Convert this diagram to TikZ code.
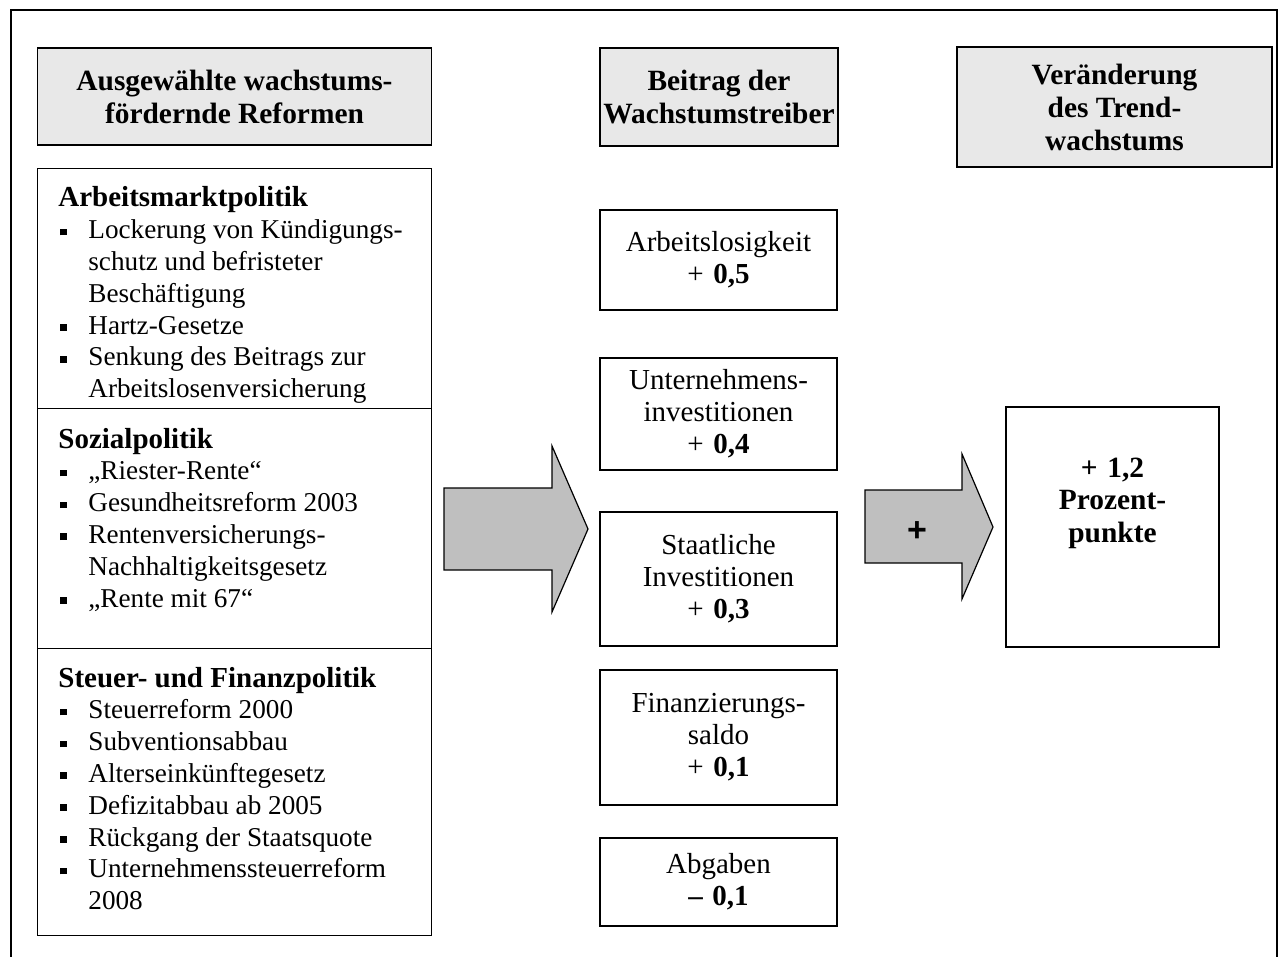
\documentclass[tikz,border=0pt]{standalone}
\usepackage{fontspec}
\setmainfont{Liberation Serif}
\newfontfamily\plusfont{Liberation Sans}
\usepackage{tikz}

\definecolor{headgray}{gray}{0.91}
\definecolor{arrowgray}{gray}{0.75}
\newcommand{\bulletmark}{\hspace*{1pt}\rule[1.7pt]{3.3pt}{3.3pt}\hspace*{10.7pt}}
\newcommand{\contindent}{\hspace*{15pt}}

\begin{document}
\begin{tikzpicture}[x=0.5pt,y=-0.5pt,
    headbox/.style={draw, line width=0.8pt, fill=headgray, align=center, inner sep=0pt,
        font=\fontsize{14.7}{16.5}\selectfont\bfseries},
    listbox/.style={draw, line width=0.7pt, inner sep=0pt, anchor=north west, minimum width=197pt},
    listtext/.style={anchor=base west, inner sep=0pt, text width=180pt, align=flush left,
        font=\fontsize{13.6}{15.9}\selectfont},
    valbox/.style={draw, line width=0.7pt, inner sep=0pt, minimum width=118.5pt,
        text width=115pt, align=center, font=\fontsize{14.5}{16}\selectfont},
    bigarrow/.style={draw, line width=0.6pt, fill=arrowgray, line join=miter}]
    \useasboundingbox (0,0) rectangle (1279,957);
    % frame
    \draw[line width=1pt] (11,965) -- (11,10) -- (1277,10) -- (1277,965);

    % column heads
    \node[headbox, minimum width=197pt, minimum height=48.5pt] (reformhead) at (234.5,96.5)
        {Ausgewählte wachstums-\\fördernde Reformen};
    \node[headbox, minimum width=119pt, minimum height=49pt] (treiberhead) at (719,97)
        {Beitrag der\\Wachstumstreiber};
    \node[headbox, minimum width=157.5pt, minimum height=60pt] (trendhead) at (1114.5,107)
        {Veränderung\\des Trend-\\wachstums};

    % reforms
    \node[listbox, minimum height=120pt] (arbbox) at (37,168) {};
    \node[listbox, minimum height=120pt] (sozbox) at (37,408) {};
    \node[listbox, minimum height=143.5pt] (steuerbox) at (37,648) {};
    \node[listtext] (arbtext) at (58,207) {{\fontsize{14.5}{15.9}\selectfont\bfseries Arbeitsmarktpolitik}\\
        \bulletmark Lockerung von Kündigungs-\\
        \contindent schutz und befristeter\\
        \contindent Beschäftigung\\
        \bulletmark Hartz-Gesetze\\
        \bulletmark Senkung des Beitrags zur\\
        \contindent Arbeitslosenversicherung};
    \node[listtext] (soztext) at (58,448) {{\fontsize{14.5}{15.9}\selectfont\bfseries Sozialpolitik}\\
        \bulletmark „Riester-Rente“\\
        \bulletmark Gesundheitsreform 2003\\
        \bulletmark Rentenversicherungs-\\
        \contindent Nachhaltigkeitsgesetz\\
        \bulletmark „Rente mit 67“};
    \node[listtext] (steuertext) at (58,687) {{\fontsize{14.5}{15.9}\selectfont\bfseries Steuer- und Finanzpolitik}\\
        \bulletmark Steuerreform 2000\\
        \bulletmark Subventionsabbau\\
        \bulletmark Alterseinkünftegesetz\\
        \bulletmark Defizitabbau ab 2005\\
        \bulletmark Rückgang der Staatsquote\\
        \bulletmark Unternehmenssteuerreform\\
        \contindent 2008};

    % growth drivers
    \node[valbox, minimum height=50pt] (arbeit) at (718.5,260) {Arbeitslosigkeit\\+ \textbf{0,5}};
    \node[valbox, minimum height=56pt] (untern) at (718.5,414) {Unternehmens-\\investitionen\\+ \textbf{0,4}};
    \node[valbox, minimum height=67pt] (staat) at (718.5,579) {Staatliche\\Investitionen\\+ \textbf{0,3}};
    \node[valbox, minimum height=67.5pt] (finanz) at (718.5,737.5) {Finanzierungs-\\saldo\\+ \textbf{0,1}};
    \node[valbox, minimum height=44pt] (abgaben) at (718.5,882) {Abgaben\\\textbf{– 0,1}};

    % result
    \node[draw, line width=0.7pt, inner sep=0pt, minimum width=106.5pt, minimum height=120pt] (result) at (1112.5,527) {};
    \node[anchor=base, inner sep=0pt, text width=100pt, align=center,
        font=\fontsize{14.7}{16.25}\selectfont\bfseries] (resulttext) at (1112.5,477) {+ 1,2\\Prozent-\\punkte};

    % arrows
    \draw[bigarrow] (444,488) -- (552,488) -- (552,446) -- (588,529) -- (552,612) -- (552,570) -- (444,570) -- cycle;
    \draw[bigarrow] (865,490) -- (962,490) -- (962,454) -- (993,527) -- (962,599) -- (962,563) -- (865,563) -- cycle;
    \node[font=\plusfont\bfseries\fontsize{17}{17}\selectfont, inner sep=0pt] (plus) at (917,532) {+};
\end{tikzpicture}
\end{document}
